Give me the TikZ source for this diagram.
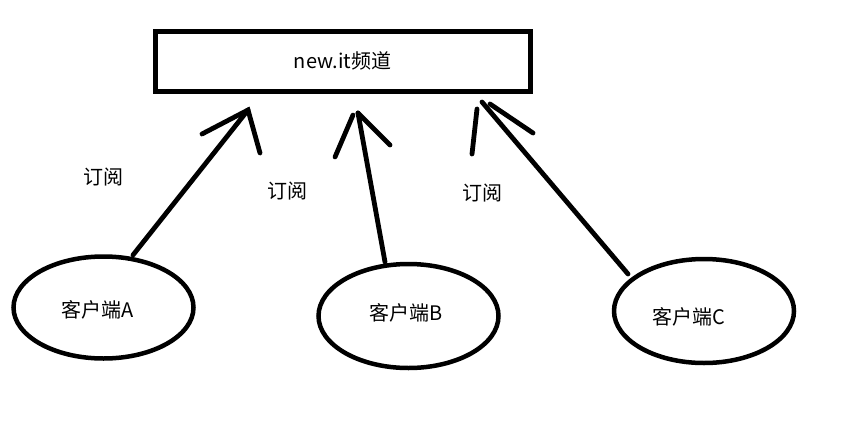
\documentclass[tikz,border=0pt]{standalone}
\usepackage{fontspec}
\setmainfont{Noto Sans CJK SC}
\usetikzlibrary{shapes.geometric}
\begin{document}
\begin{tikzpicture}[x=1pt,y=-1pt,
  chan/.style={draw,line width=5pt,minimum width=375pt,minimum height=60pt,inner sep=0pt,font=\fontsize{20}{24}\selectfont},
  client/.style={draw,ellipse,line width=4.5pt,minimum width=180pt,minimum height=102pt,inner sep=0pt},
  sub/.style={font=\fontsize{20}{24}\selectfont},
  stroke/.style={line width=4.8pt,line cap=round}]
\useasboundingbox (0,0) rectangle (845,431);
\node[chan] (ch) at (342.5,61) {new.it频道};
\node[client] (A) at (103.5,307.5) {};
\node[client,minimum height=104pt] (B) at (408.5,316) {};
\node[client,minimum height=104pt] (C) at (704,311) {};
\node[sub] (tA) at (98,310) {客户端A};
\node[sub] (tB) at (406,313) {客户端B};
\node[sub] (tC) at (689,317) {客户端C};
\node[sub] (lA) at (103,177) {订阅};
\node[sub] (lB) at (287,191) {订阅};
\node[sub] (lC) at (482,193) {订阅};
% arrow A
\coordinate (sA) at (133,255);
\coordinate (pA) at (248,110);
\coordinate (aA1) at (202,134);
\coordinate (aA2) at (260,153);
\draw[stroke] (sA) -- (pA);
\draw[stroke] (aA1) -- (pA) -- (aA2);
% arrow B
\coordinate (sB) at (385,262);
\coordinate (pB) at (358,113);
\coordinate (qB) at (353,115);
\coordinate (aB1) at (335,157);
\coordinate (aB2) at (390,145);
\draw[stroke] (sB) -- (pB);
\draw[stroke] (aB1) -- (qB);
\draw[stroke] (pB) -- (aB2);
% arrow C
\coordinate (sC) at (628,274);
\coordinate (pC) at (482,102);
\coordinate (qC1) at (477,109);
\coordinate (qC2) at (490,104);
\coordinate (aC1) at (472,154);
\coordinate (aC2) at (533,133);
\draw[stroke] (sC) -- (pC);
\draw[stroke] (qC1) -- (aC1);
\draw[stroke] (qC2) -- (aC2);
\end{tikzpicture}
\end{document}
